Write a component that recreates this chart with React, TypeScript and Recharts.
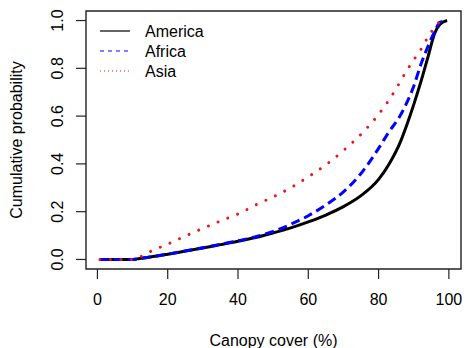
import { LineChart, Line, XAxis, YAxis, ReferenceArea } from 'recharts'

// canopy cover (%) sample points and cumulative probability for each region
const canopy = [0.7, 5, 10, 12, 15, 20, 25, 30, 35, 40, 45, 50, 55, 60, 65, 70, 75, 80, 83, 86, 88, 90, 92, 94, 96, 97.5, 99.5]
const america = [0, 0, 0, 0.004, 0.01, 0.022, 0.035, 0.048, 0.062, 0.076, 0.092, 0.111, 0.132, 0.157, 0.186, 0.221, 0.267, 0.335, 0.4, 0.485, 0.562, 0.648, 0.742, 0.845, 0.948, 0.985, 1]
const africa = [0, 0, 0, 0.004, 0.01, 0.022, 0.035, 0.049, 0.063, 0.078, 0.095, 0.117, 0.147, 0.183, 0.228, 0.283, 0.36, 0.465, 0.535, 0.598, 0.655, 0.725, 0.815, 0.89, 0.955, 0.993, 1]
const asia = [0, 0, 0, 0.01, 0.033, 0.064, 0.098, 0.13, 0.161, 0.19, 0.228, 0.262, 0.3, 0.346, 0.396, 0.456, 0.524, 0.607, 0.668, 0.74, 0.79, 0.835, 0.878, 0.93, 0.972, 0.995, 1]

const xTicks = [0, 20, 40, 60, 80, 100]
const yTicks = [0, 0.2, 0.4, 0.6, 0.8, 1]

const series = [
  { name: 'America', color: '#000000', dash: undefined, cap: 'butt', legendDash: undefined },
  { name: 'Africa', color: '#0000ff', dash: '9 5', cap: 'butt', legendDash: '4 4' },
  { name: 'Asia', color: '#e8161b', dash: '0.01 10.5', cap: 'round', legendDash: '1 3' },
] as const

const data = canopy.map((x, i) => ({ x, America: america[i], Africa: africa[i], Asia: asia[i] }))

const FONT = '"Liberation Sans", Arial, Helvetica, sans-serif'

function YTick({ x, y, payload }: any) {
  return (
    <text x={x} y={y} transform={`rotate(-90, ${x}, ${y})`} textAnchor="middle" fontSize={16} fill="#000">
      {Number(payload.value).toFixed(1)}
    </text>
  )
}

function XLabel({ viewBox }: any) {
  const { x, y, width } = viewBox
  return (
    <text x={x + width / 2} y={y + 77} textAnchor="middle" fontSize={16} fill="#000">
      Canopy cover (%)
    </text>
  )
}

function YLabel({ viewBox }: any) {
  const { x, y, height } = viewBox
  const cx = x + 22
  const cy = y + height / 2
  return (
    <text x={cx} y={cy} transform={`rotate(-90, ${cx}, ${cy})`} textAnchor="middle" fontSize={16} fill="#000">
      Cumulative probability
    </text>
  )
}

export default function App() {
  return (
    <div style={{ position: 'absolute', left: 0, top: 0, width: 468, height: 348, background: '#fff', fontFamily: FONT }}>
      <LineChart width={468} height={348} data={data} margin={{ top: 11, right: 7, left: 0, bottom: 0 }}>
        <XAxis
          dataKey="x"
          type="number"
          domain={[-3.25, 103.45]}
          ticks={xTicks}
          allowDataOverflow
          height={79}
          axisLine={false}
          tickSize={10}
          tickMargin={15}
          tickLine={{ stroke: '#222', strokeWidth: 1.2 }}
          tick={{ fill: '#000', fontSize: 16 }}
          label={{ content: XLabel }}
        />
        <YAxis
          type="number"
          domain={[-0.04, 1.04]}
          ticks={yTicks}
          allowDataOverflow
          width={86}
          axisLine={false}
          tickSize={10}
          tickMargin={13}
          tickLine={{ stroke: '#222', strokeWidth: 1.2 }}
          tick={YTick}
          label={{ content: YLabel }}
        />
        <ReferenceArea x1={-3.25} x2={103.45} y1={-0.04} y2={1.04} fill="none" stroke="#222" strokeWidth={1.4} />
        {series.map(s => (
          <Line
            key={s.name}
            type="monotone"
            dataKey={s.name}
            stroke={s.color}
            strokeWidth={3}
            strokeDasharray={s.dash}
            strokeLinecap={s.cap}
            dot={false}
            activeDot={false}
            isAnimationActive={false}
          />
        ))}
      </LineChart>
      <svg width={140} height={65} style={{ position: 'absolute', left: 95, top: 18 }}>
        {series.map((s, i) => (
          <g key={s.name}>
            <line x1={5} x2={35} y1={13 + i * 20} y2={13 + i * 20} stroke={s.color} strokeWidth={1.2} strokeDasharray={s.legendDash} />
            <text x={50} y={18.7 + i * 20} fontSize={16} fill="#000">{s.name}</text>
          </g>
        ))}
      </svg>
    </div>
  )
}
